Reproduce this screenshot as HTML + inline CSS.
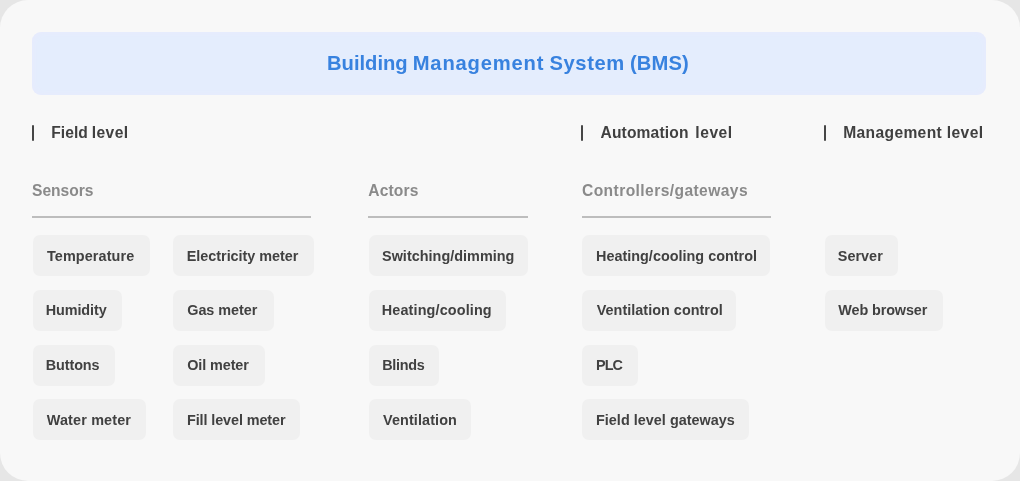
<!DOCTYPE html>
<html>
<head>
<meta charset="utf-8">
<title>Building Management System (BMS)</title>
<style>
html,body{margin:0;padding:0;}
body{width:1020px;height:481px;background:#e6e6e6;overflow:hidden;position:relative;font-family:"Liberation Sans",sans-serif;}
.card{position:absolute;left:0;top:0;width:1020px;height:481px;background:#f8f8f8;border-radius:28px;}
.banner{position:absolute;left:32px;top:32px;width:954px;height:63px;border-radius:9px;background:#e4edfd;box-shadow:inset 0 0 7px #e9eafd;}
.t{position:absolute;white-space:nowrap;font-weight:bold;}
.layer{position:absolute;left:0;top:0;width:1020px;height:481px;will-change:transform;}
.title{height:26px;line-height:26px;color:#3882df;font-size:20.2px;}
.lvl{font-size:15.6px;color:#404040;line-height:18px;height:18px;}
.sub{font-size:15.6px;color:#8a8a8a;line-height:18px;height:18px;}
.ct{height:40px;line-height:40px;font-size:14.4px;color:#414141;}
.bar{position:absolute;width:2px;height:16px;background:#464646;border-radius:1px;}
.ln{position:absolute;height:2px;background:#bdbdbd;}
.chip{position:absolute;height:40.5px;background:#f0f0f0;border-radius:7px;}

</style>
</head>
<body>
<div class="card"></div>
<div class="banner"></div>
<div class="chip" style="left:32.5px;top:235px;width:117.3px"></div>
<div class="chip" style="left:32.5px;top:290px;width:89.4px"></div>
<div class="chip" style="left:32.5px;top:345px;width:82.5px"></div>
<div class="chip" style="left:32.5px;top:399.3px;width:113.2px"></div>
<div class="chip" style="left:173px;top:235px;width:141px"></div>
<div class="chip" style="left:173px;top:290px;width:101px"></div>
<div class="chip" style="left:173px;top:345px;width:92px"></div>
<div class="chip" style="left:173px;top:399.3px;width:127px"></div>
<div class="chip" style="left:368.5px;top:235px;width:159.5px"></div>
<div class="chip" style="left:368.5px;top:290px;width:137.5px"></div>
<div class="chip" style="left:368.5px;top:345px;width:70.5px"></div>
<div class="chip" style="left:368.5px;top:399.3px;width:102.5px"></div>
<div class="chip" style="left:582px;top:235px;width:188px"></div>
<div class="chip" style="left:582px;top:290px;width:154px"></div>
<div class="chip" style="left:582px;top:345px;width:56px"></div>
<div class="chip" style="left:582px;top:399.3px;width:167px"></div>
<div class="chip" style="left:825px;top:235px;width:73px"></div>
<div class="chip" style="left:825px;top:290px;width:118px"></div>
<div class="layer">
<div class="t ct" id="t0" style="left:47.00px;top:236px;letter-spacing:0.105px">Temperature</div>
<div class="t ct" id="t1" style="left:45.75px;top:290px;letter-spacing:-0.093px">Humidity</div>
<div class="t ct" id="t2" style="left:45.75px;top:345px;letter-spacing:-0.092px">Buttons</div>
<div class="t ct" id="t3" style="left:46.75px;top:400px;letter-spacing:0.155px">Water meter</div>
<div class="t ct" id="t4" style="left:186.75px;top:236px;letter-spacing:-0.019px">Electricity meter</div>
<div class="t ct" id="t5" style="left:187.25px;top:290px;letter-spacing:-0.037px">Gas meter</div>
<div class="t ct" id="t6" style="left:187.25px;top:345px;letter-spacing:-0.100px">Oil meter</div>
<div class="t ct" id="t7" style="left:187.00px;top:400px;letter-spacing:-0.100px">Fill level meter</div>
<div class="t ct" id="t8" style="left:382.00px;top:236px;letter-spacing:0.031px">Switching/dimming</div>
<div class="t ct" id="t9" style="left:381.75px;top:290px;letter-spacing:0.139px">Heating/cooling</div>
<div class="t ct" id="t10" style="left:382.25px;top:345px;letter-spacing:-0.310px">Blinds</div>
<div class="t ct" id="t11" style="left:383.00px;top:400px;letter-spacing:0.115px">Ventilation</div>
<div class="t ct" id="t12" style="left:596.00px;top:236px;letter-spacing:0.014px">Heating/cooling control</div>
<div class="t ct" id="t13" style="left:596.75px;top:290px;letter-spacing:0.028px">Ventilation control</div>
<div class="t ct" id="t14" style="left:596.00px;top:345px;letter-spacing:-0.900px">PLC</div>
<div class="t ct" id="t15" style="left:596.00px;top:400px;letter-spacing:0.026px">Field level gateways</div>
<div class="t ct" id="t16" style="left:837.75px;top:236px;letter-spacing:0.040px">Server</div>
<div class="t ct" id="t17" style="left:838.25px;top:290px;letter-spacing:-0.100px">Web browser</div>
<div class="t lvl" id="t18" style="left:51.25px;top:124.2px;letter-spacing:0.038px">Field</div>
<div class="t lvl" id="t19" style="left:91.75px;top:124.2px;letter-spacing:0.400px">level</div>
<div class="t lvl" id="t20" style="left:600.50px;top:124.2px;letter-spacing:0.144px">Automation</div>
<div class="t lvl" id="t21" style="left:695.25px;top:124.2px;letter-spacing:0.562px">level</div>
<div class="t lvl" id="t22" style="left:843.25px;top:124.2px;letter-spacing:0.350px">Management</div>
<div class="t lvl" id="t23" style="left:946.75px;top:124.2px;letter-spacing:0.400px">level</div>
<div class="t sub" id="t24" style="left:32.00px;top:181.8px;letter-spacing:0.000px">Sensors</div>
<div class="t sub" id="t25" style="left:368.25px;top:181.8px;letter-spacing:0.160px">Actors</div>
<div class="t sub" id="t26" style="left:582.00px;top:181.8px;letter-spacing:0.413px">Controllers/gateways</div>
<div class="t title" id="t27" style="left:327.00px;top:49.9px;letter-spacing:-0.014px">Building</div>
<div class="t title" id="t28" style="left:412.75px;top:49.9px;letter-spacing:0.806px">Management</div>
<div class="t title" id="t29" style="left:549.50px;top:49.9px;letter-spacing:0.580px">System</div>
<div class="t title" id="t30" style="left:630.00px;top:49.9px;letter-spacing:0.112px">(BMS)</div>
</div>
<div class="bar" style="left:32px;top:125px"></div>
<div class="bar" style="left:581px;top:125px"></div>
<div class="bar" style="left:824px;top:125px"></div>
<div class="ln" style="left:32px;top:216px;width:279px"></div>
<div class="ln" style="left:368px;top:216px;width:160px"></div>
<div class="ln" style="left:582px;top:216px;width:189px"></div>
</body>
</html>
